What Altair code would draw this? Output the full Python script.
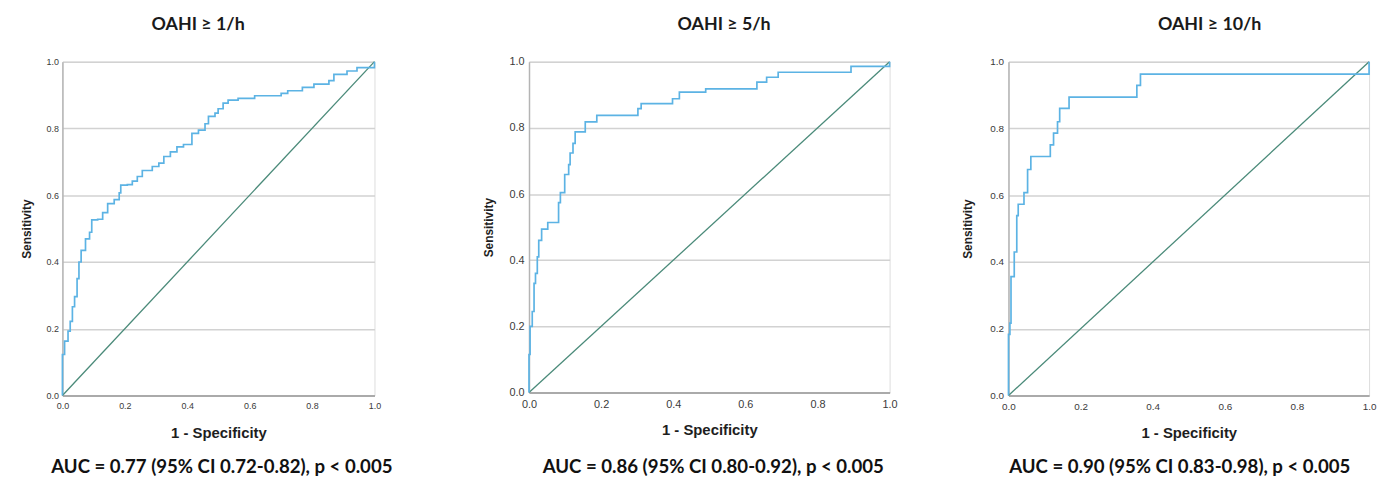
import altair as alt
import pandas as pd

# ---------------- data ----------------
TICKS = [0.0, 0.2, 0.4, 0.6, 0.8, 1.0]

titles = ["OAHI ≥ 1/h", "OAHI ≥ 5/h", "OAHI ≥ 10/h"]
auc_texts = [
    "AUC = 0.77 (95% CI 0.72-0.82), p < 0.005",
    "AUC = 0.86 (95% CI 0.80-0.92), p < 0.005",
    "AUC = 0.90 (95% CI 0.83-0.98), p < 0.005",
]

# ROC curve 1 (1 - specificity where sensitivity steps up, new sensitivity)
fpr1 = [0, 0, 0.007, 0.018, 0.025, 0.032, 0.039, 0.047, 0.053, 0.060, 0.074, 0.087,
        0.094, 0.113, 0.129, 0.145, 0.166, 0.182, 0.187, 0.208, 0.224, 0.240, 0.256,
        0.288, 0.309, 0.325, 0.346, 0.367, 0.388, 0.415, 0.436, 0.457, 0.468, 0.489,
        0.499, 0.515, 0.531, 0.563, 0.616, 0.701, 0.722, 0.769, 0.806, 0.854, 0.870,
        0.912, 0.944, 1.0, 1.0]
tpr1 = [0, 0.123, 0.163, 0.193, 0.222, 0.266, 0.296, 0.350, 0.400, 0.435, 0.469, 0.489,
        0.526, 0.528, 0.548, 0.575, 0.587, 0.607, 0.630, 0.632, 0.642, 0.656, 0.674,
        0.686, 0.696, 0.716, 0.730, 0.745, 0.752, 0.785, 0.795, 0.814, 0.836, 0.846,
        0.859, 0.876, 0.885, 0.890, 0.898, 0.905, 0.913, 0.923, 0.933, 0.943, 0.962,
        0.972, 0.982, 0.982, 1.0]

# ROC curve 2
fpr2 = [0, 0, 0.003, 0.009, 0.014, 0.018, 0.023, 0.027, 0.035, 0.052, 0.082, 0.087,
        0.099, 0.110, 0.114, 0.122, 0.128, 0.156, 0.188, 0.302, 0.311, 0.398, 0.417,
        0.490, 0.632, 0.659, 0.691, 0.893, 1.0, 1.0]
tpr2 = [0, 0.115, 0.200, 0.245, 0.330, 0.360, 0.410, 0.460, 0.494, 0.514, 0.574, 0.604,
        0.659, 0.689, 0.724, 0.753, 0.788, 0.818, 0.838, 0.858, 0.873, 0.888, 0.908,
        0.918, 0.938, 0.953, 0.968, 0.986, 0.986, 1.0]

# ROC curve 3
fpr3 = [0, 0, 0.004, 0.007, 0.016, 0.023, 0.027, 0.043, 0.053, 0.062, 0.116, 0.125,
        0.136, 0.142, 0.168, 0.356, 0.366, 1.0, 1.0]
tpr3 = [0, 0.183, 0.217, 0.356, 0.430, 0.539, 0.573, 0.608, 0.677, 0.716, 0.751, 0.786,
        0.820, 0.860, 0.894, 0.929, 0.963, 0.963, 1.0]

diag = [0.0, 1.0]

# where the panel title and the AUC caption sit along the x axis (data units)
title_pos = [0.435, 0.541, 0.558]
auc_pos = [0.511, 0.511, 0.475]

# ---------------- style ----------------
BLUE = "#5cb3e4"
TEAL = "#4a8a79"
GRID = "#d2d2d2"
AXIS_FONT = "Liberation Sans"
TEXT_FONT = "Lato"


def panel(fpr, tpr, title, auc, tpos, apos, w, h, lab_size, lab_pad_x, title_pad_x,
          lab_pad_y, title_pad_y, auc_dy):
    df = pd.DataFrame({"fpr": fpr, "tpr": tpr, "i": list(range(len(fpr)))})
    dd = pd.DataFrame({"d": diag})
    xs = alt.Scale(domain=[0, 1], nice=False, zero=False)
    ys = alt.Scale(domain=[0, 1], nice=False, zero=False)
    xaxis = alt.Axis(values=TICKS, format=".1f", title="1 - Specificity", grid=False,
                     ticks=False, labelPadding=lab_pad_x, labelFont=AXIS_FONT,
                     labelFontSize=lab_size, labelColor="#3a3a3a", domainColor="#9a9a9a",
                     domainWidth=1.5, titleFont=AXIS_FONT, titleFontSize=15,
                     titleFontWeight="bold", titleColor="#1e1e1e", titlePadding=title_pad_x,
                     labelFlush=False)
    yaxis = alt.Axis(values=TICKS, format=".1f", title="Sensitivity", grid=True,
                     gridColor=GRID, gridWidth=1.5, ticks=False, labelPadding=lab_pad_y,
                     labelFont=AXIS_FONT, labelFontSize=lab_size, labelColor="#3a3a3a",
                     domainColor="#b4b4b4", domainWidth=1.5, titleFont=AXIS_FONT,
                     titleFontSize=12, titleFontWeight="bold", titleColor="#1e1e1e",
                     titlePadding=title_pad_y, labelFlush=False)

    diag_line = alt.Chart(dd).mark_line(color=TEAL, strokeWidth=1.3).encode(
        x=alt.X("d:Q", scale=xs, axis=xaxis),
        y=alt.Y("d:Q", scale=ys, axis=yaxis),
    )
    roc = alt.Chart(df).mark_line(interpolate="step-after", color=BLUE,
                                  strokeWidth=1.7).encode(
        x=alt.X("fpr:Q", scale=xs, axis=xaxis),
        y=alt.Y("tpr:Q", scale=ys, axis=yaxis),
        order=alt.Order("i:Q"),
    )
    ttl = alt.Chart(pd.DataFrame({"t": [title], "p": [tpos]})).mark_text(
        font=TEXT_FONT, fontWeight="bold", fontSize=18, baseline="middle",
        align="center", color="#1a1a1a"
    ).encode(x=alt.X("p:Q", scale=xs, axis=xaxis), y=alt.value(-37), text="t:N")
    cap = alt.Chart(pd.DataFrame({"t": [auc], "p": [apos]})).mark_text(
        font=TEXT_FONT, fontWeight="bold", fontSize=18.8, baseline="middle",
        align="center", color="#111111"
    ).encode(x=alt.X("p:Q", scale=xs, axis=xaxis), y=alt.value(h + auc_dy), text="t:N")
    return alt.layer(diag_line, roc, ttl, cap).properties(width=w, height=h)


p1 = panel(fpr1, tpr1, titles[0], auc_texts[0], title_pos[0], auc_pos[0],
           315, 337, 9, 6, 15, 4, 13, 72)
p2 = panel(fpr2, tpr2, titles[1], auc_texts[1], title_pos[1], auc_pos[1],
           364, 334, 11, 6, 13, 5, 14, 75)
p3 = panel(fpr3, tpr3, titles[2], auc_texts[2], title_pos[2], auc_pos[2],
           364, 337, 10, 6, 14, 5, 15, 72)

chart = alt.hconcat(p1, alt.hconcat(p2, p3, spacing=63), spacing=89).properties(
    padding={"left": 19, "top": 13, "right": 0, "bottom": 0}
).configure_view(stroke=None).configure(background="white")

chart.save("out.html", embed_options={"renderer": "svg", "actions": False})
